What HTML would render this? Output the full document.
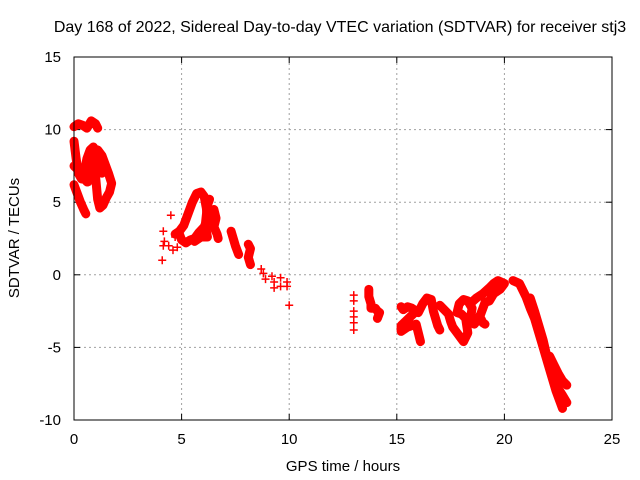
<!DOCTYPE html>
<html><head><meta charset="utf-8"><style>
body{margin:0;background:#fff}
svg{display:block;font-family:"Liberation Sans",sans-serif}
</style></head><body>
<svg id="chart" width="640" height="480">
<text x="340" y="32" font-size="16" text-anchor="middle">Day 168 of 2022, Sidereal Day-to-day VTEC variation (SDTVAR) for receiver stj3</text>
<text x="343" y="471" font-size="15" text-anchor="middle">GPS time / hours</text>
<text transform="translate(19,238) rotate(-90)" font-size="15" text-anchor="middle">SDTVAR / TECUs</text>
<g id="grid"></g><g id="ticks"></g><g id="marks"></g>
<rect x="74" y="57" width="538" height="363" fill="none" stroke="#000" stroke-width="1"/>
</svg>
<script>
const xTicks=[0,5,10,15,20,25];
const yTicks=[15,10,5,0,-5,-10];
const trackA=[[0,10.2],[0.2,10.4],[0.4,10.3],[0.6,10.1],[0.8,10.6],[1.0,10.4],[1.1,10.1]];
const trackB=[[0,9.2],[0.1,8.0],[0.2,7.0],[0.35,6.6],[0.5,7.2],[0.6,8.0],[0.75,8.6],[0.9,8.8],[1.05,8.4],[1.15,7.6],[1.3,7.0]];
const trackC=[[0,6.2],[0.15,5.6],[0.3,5.0],[0.45,4.5],[0.55,4.2]];
const trackD=[[0.9,7.6],[1.0,6.8],[1.05,6.0],[1.1,5.2],[1.2,4.6],[1.35,4.8],[1.5,5.3],[1.65,5.7],[1.75,6.3],[1.6,7.0],[1.45,7.6],[1.3,8.2],[1.1,8.6],[0.95,8.2],[0.8,7.2],[0.6,6.4]];
const trackE=[[0,7.5],[0.2,7.2],[0.45,6.6],[0.65,6.4]];
const trackF=[[4.1,1.0],[4.15,2.0],[4.2,2.3],[4.15,3.0],[4.5,4.1],[4.4,2.0],[4.6,1.7],[4.8,1.9],[4.7,2.6]];
const trackG=[[4.7,2.8],[4.9,3.0],[5.1,3.4],[5.3,4.2],[5.5,5.0],[5.7,5.6],[5.9,5.7],[6.05,5.4],[6.15,4.6],[6.2,3.8],[6.05,3.3],[5.8,2.9],[5.6,2.5],[5.4,2.4],[5.2,2.2],[5.0,2.4],[4.9,2.8]];
const trackH=[[5.6,2.3],[5.9,2.6],[6.2,2.6],[6.1,3.4],[6.2,4.8],[6.3,5.2]];
const trackI=[[6.5,4.5],[6.6,3.9],[6.5,3.3],[6.65,2.8],[6.7,2.5]];
const trackJ=[[7.3,3.0],[7.4,2.5],[7.5,2.0],[7.6,1.6],[7.65,1.4]];
const trackK=[[8.1,2.1],[8.2,1.8],[8.1,1.2],[8.2,0.7]];
const trackL=[[8.7,0.4],[8.8,0.1],[8.9,-0.3],[9.2,-0.1],[9.3,-0.5],[9.3,-0.9],[9.6,-0.2],[9.6,-0.8],[9.9,-0.5],[9.9,-0.8],[10.0,-2.1]];
const trackM=[[13.0,-1.4],[13.0,-1.8],[13.0,-2.5],[13.0,-2.9],[13.0,-3.3],[13.0,-3.8]];
const trackN=[[13.7,-1.0],[13.7,-1.5],[13.8,-2.0],[13.8,-2.3],[14.0,-2.3],[14.1,-2.5],[14.2,-2.6],[14.1,-3.0]];
const trackO=[[15.2,-2.2],[15.3,-2.4],[15.5,-2.2],[15.7,-2.3],[15.9,-2.5],[15.2,-3.5],[15.2,-3.9],[15.5,-3.6],[15.9,-3.4],[16.1,-4.6]];
const trackP=[[16.0,-2.6],[16.2,-2.0],[16.4,-1.6],[16.6,-1.7],[16.7,-2.5],[16.8,-3.0],[16.9,-3.5],[17.0,-3.8]];
const trackQ=[[17.0,-2.1],[17.2,-2.4],[17.4,-2.7],[17.5,-3.2],[17.6,-3.6],[17.8,-4.0],[18.0,-4.4],[18.1,-4.6],[18.3,-4.0],[18.2,-3.0],[18.0,-2.7],[17.8,-2.6],[17.9,-2.0],[18.1,-1.7],[18.3,-1.8],[18.5,-2.3],[18.4,-3.2]];
const trackR=[[18.4,-2.0],[18.7,-1.6],[19.0,-1.3],[19.3,-0.9],[19.5,-0.6],[19.7,-0.4],[20.0,-0.6],[19.8,-1.0],[19.5,-1.3],[19.3,-1.8],[19.1,-1.9],[18.9,-2.7],[18.7,-3.2],[18.6,-3.4]];
const trackS=[[18.9,-3.0],[19.0,-3.3],[19.1,-3.4]];
const trackT=[[20.4,-0.4],[20.7,-0.6],[21.0,-1.5],[21.2,-2.3],[21.4,-3.0],[21.6,-4.0],[21.8,-5.0],[22.0,-6.0],[22.2,-7.0],[22.4,-8.0],[22.6,-8.8],[22.7,-9.2]];
const trackU=[[21.2,-1.6],[21.4,-2.5],[21.6,-3.5],[21.8,-4.5],[22.0,-5.8],[22.2,-6.8],[22.4,-7.6],[22.7,-8.3],[22.9,-8.8]];
const trackV=[[22.1,-5.6],[22.3,-6.2],[22.5,-6.8],[22.7,-7.3],[22.9,-7.6]];
const tracks=[trackA,trackB,trackC,trackD,trackE,trackF,trackG,trackH,trackI,trackJ,trackK,trackL,trackM,trackN,trackO,trackP,trackQ,trackR,trackS,trackT,trackU,trackV];
const dotTracks=[5,11,12];

const X0=74,X1=612,Y0=420,Y1=57;
const xs=t=>X0+(t-0)/(25-0)*(X1-X0);
const ys=v=>Y0-(v+10)/(25)*(Y0-Y1);
const NS="http://www.w3.org/2000/svg";
const grid=document.getElementById('grid'),ticks=document.getElementById('ticks'),marks=document.getElementById('marks');
function mk(tag,attrs,parent){const e=document.createElementNS(NS,tag);for(const k in attrs)e.setAttribute(k,attrs[k]);parent.appendChild(e);return e;}
xTicks.forEach(t=>{const x=xs(t);
 if(t>0&&t<25){const g=mk('line',{x1:x,x2:x,y1:Y0,y2:Y1,stroke:'#a0a0a0','stroke-dasharray':'2,3'},grid);
 
 }
 mk('line',{x1:x,x2:x,y1:Y0,y2:Y0-6,stroke:'#000'},ticks);mk('line',{x1:x,x2:x,y1:Y1,y2:Y1+6,stroke:'#000'},ticks);
 const l=mk('text',{x:x,y:Y0+24,'font-size':15,'text-anchor':'middle'},ticks);l.textContent=t;
 
 });
yTicks.forEach(v=>{const y=ys(v);
 if(v>-10&&v<15){const g=mk('line',{x1:X0,x2:X1,y1:y,y2:y,stroke:'#a0a0a0','stroke-dasharray':'2,3'},grid);
 
 }
 mk('line',{x1:X0,x2:X0+6,y1:y,y2:y,stroke:'#000'},ticks);mk('line',{x1:X1,x2:X1-6,y1:y,y2:y,stroke:'#000'},ticks);
 const l=mk('text',{x:X0-13,y:y+5,'font-size':15,'text-anchor':'end'},ticks);l.textContent=v;
 
 });
tracks.forEach((tr,i)=>{
 if(!dotTracks.includes(i)){const p=mk('polyline',{points:tr.map(d=>xs(d[0])+','+ys(d[1])).join(' '),fill:'none',stroke:'#f00','stroke-width':9,'stroke-linejoin':'round','stroke-linecap':'round'},marks);
 
 }
 tr.forEach(d=>{const x=xs(d[0]),y=ys(d[1]);
  const m=mk('path',{d:`M${x-4},${y}h8M${x},${y-4}v8`,stroke:'#f00','stroke-width':1.5},marks);
  
  });
});
</script>
</body></html>
